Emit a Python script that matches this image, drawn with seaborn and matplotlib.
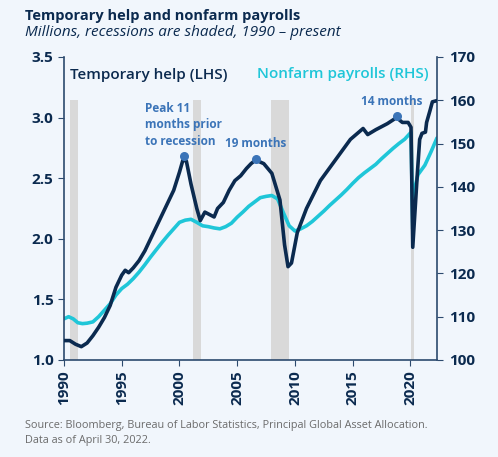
import pandas as pd
import matplotlib.pyplot as plt
import seaborn as sns

# Temporary help (LHS, millions)
temp_year = [1990.0, 1990.5, 1991.0, 1991.5, 1992.0, 1992.5, 1993.0, 1993.5, 1994.0, 1994.5,
             1995.0, 1995.3, 1995.6, 1996.0, 1996.5, 1997.0, 1997.5, 1998.0, 1998.5, 1999.0,
             1999.5, 2000.0, 2000.3, 2000.6, 2001.0, 2001.5, 2001.8, 2002.2, 2002.6, 2003.0,
             2003.3, 2003.8, 2004.3, 2004.8, 2005.3, 2005.8, 2006.2, 2006.6, 2007.3, 2008.0,
             2008.7, 2009.1, 2009.4, 2009.7, 2010.2, 2011.0, 2012.2, 2013.5, 2014.8, 2015.9,
             2016.3, 2017.0, 2018.0, 2018.8, 2019.3, 2019.8, 2020.05, 2020.2, 2020.6, 2020.8,
             2021.0, 2021.3, 2021.4, 2021.7, 2021.9, 2022.3]
temp_help = [1.16, 1.16, 1.13, 1.11, 1.14, 1.20, 1.27, 1.35, 1.45, 1.60,
             1.70, 1.74, 1.72, 1.76, 1.82, 1.90, 2.00, 2.10, 2.20, 2.30,
             2.40, 2.55, 2.65, 2.64, 2.45, 2.25, 2.15, 2.22, 2.20, 2.18,
             2.25, 2.30, 2.40, 2.48, 2.52, 2.58, 2.62, 2.65, 2.62, 2.54,
             2.32, 1.95, 1.77, 1.80, 2.05, 2.25, 2.48, 2.65, 2.82, 2.91,
             2.86, 2.90, 2.95, 3.00, 2.96, 2.96, 2.92, 1.93, 2.54, 2.82,
             2.87, 2.88, 2.96, 3.06, 3.13, 3.14]

# Nonfarm payrolls (RHS, millions)
nfp_year = [1990.0, 1990.4, 1990.8, 1991.2, 1991.6, 1992.0, 1992.5, 1993.0, 1993.5, 1994.0,
            1994.5, 1995.0, 1995.5, 1996.0, 1996.5, 1997.0, 1997.5, 1998.0, 1998.5, 1999.0,
            1999.5, 2000.0, 2000.5, 2001.0, 2001.5, 2002.0, 2002.5, 2003.0, 2003.5, 2004.0,
            2004.5, 2005.0, 2005.5, 2006.0, 2006.5, 2007.0, 2007.5, 2008.0, 2008.5, 2009.0,
            2009.5, 2010.0, 2010.5, 2011.0, 2011.5, 2012.0, 2012.5, 2013.0, 2013.5, 2014.0,
            2014.5, 2015.0, 2015.5, 2016.0, 2016.5, 2017.0, 2017.5, 2018.0, 2018.5, 2019.0,
            2019.5, 2020.05, 2020.2, 2020.4, 2020.65, 2021.25, 2021.8, 2022.3]
nfp = [109.5, 110.0, 109.5, 108.6, 108.4, 108.5, 108.8, 110.0, 111.5, 113.0,
       115.0, 116.5, 117.5, 118.8, 120.3, 122.0, 123.8, 125.5, 127.2, 128.8,
       130.3, 131.8, 132.3, 132.5, 131.8, 131.0, 130.8, 130.5, 130.3, 130.8,
       131.6, 133.0, 134.2, 135.5, 136.5, 137.5, 137.8, 138.0, 137.2, 134.0,
       131.0, 129.8, 130.3, 131.0, 132.0, 133.2, 134.4, 135.7, 136.9, 138.1,
       139.4, 140.8, 142.1, 143.2, 144.2, 145.2, 146.5, 147.7, 148.9, 150.0,
       151.0, 152.6, 130.3, 140.0, 142.8, 145.0, 148.2, 151.3]

# Recessions (start, end)
rec_start = [1990.55, 2001.2, 2007.95, 2020.05]
rec_end = [1991.2, 2001.9, 2009.5, 2020.3]

# Annotated peaks
peak_year = [2000.4, 2006.6, 2018.8]
peak_val = [2.68, 2.66, 3.01]
peak_text = ["Peak 11\nmonths prior\nto recession", "19 months", "14 months"]

df_temp = pd.DataFrame({"year": temp_year, "value": temp_help})
df_nfp = pd.DataFrame({"year": nfp_year, "value": nfp})

navy = "#0b2a4f"
cyan = "#1fc6d8"
blue = "#3b74b8"
bg = "#f1f6fc"

sns.set_style("white")
plt.rcParams["font.family"] = ["Open Sans", "DejaVu Sans"]

fig = plt.figure(figsize=(4.98, 4.57), dpi=100, facecolor=bg)
ax = fig.add_axes([0.1285, 0.2123, 0.749, 0.663], facecolor=bg)
ax2 = ax.twinx()

# recession shading (up to 160 on RHS)
for s, e in zip(rec_start, rec_end):
    ax2.fill_between([s, e], 100, 160, color="#d9d9d9", lw=0, zorder=0)

sns.lineplot(data=df_nfp, x="year", y="value", ax=ax2, color=cyan, lw=2.6, zorder=2)
ax2.set_zorder(1)
ax.set_zorder(2)
ax.patch.set_visible(False)
sns.lineplot(data=df_temp, x="year", y="value", ax=ax, color=navy, lw=2.6, zorder=3)

# peak dots and labels
ax.scatter(peak_year, peak_val, color=blue, s=30, zorder=4)
ax.text(1997.0, 3.13, peak_text[0], color=blue, fontsize=8.5, fontweight="bold", ha="left",
        va="top", linespacing=1.35)
ax.text(2003.9, 2.79, peak_text[1], color=blue, fontsize=8.5, fontweight="bold", ha="left", va="center")
ax.text(2015.7, 3.13, peak_text[2], color=blue, fontsize=8.5, fontweight="bold", ha="left", va="center")

ax.text(1990.5, 3.35, "Temporary help (LHS)", color=navy, fontsize=11, fontweight="semibold", va="center")
ax.text(2006.7, 3.36, "Nonfarm payrolls (RHS)", color=cyan, fontsize=11, fontweight="semibold", va="center")

ax.set_xlim(1990, 2022.3)
ax.set_ylim(1.0, 3.5)
ax2.set_ylim(100, 170)
ax.set_xticks([1990, 1995, 2000, 2005, 2010, 2015, 2020])
ax.set_yticks([1.0, 1.5, 2.0, 2.5, 3.0, 3.5])
ax.set_yticklabels(["1.0", "1.5", "2.0", "2.5", "3.0", "3.5"])
ax2.set_yticks([100, 110, 120, 130, 140, 150, 160, 170])
ax.set_xlabel("")
ax.set_ylabel("")
ax2.set_ylabel("")

for a in (ax, ax2):
    for side in a.spines:
        a.spines[side].set_visible(False)
ax.spines["left"].set_visible(True)
ax.spines["bottom"].set_visible(True)
ax2.spines["right"].set_visible(True)
for sp in [ax.spines["left"], ax.spines["bottom"], ax2.spines["right"]]:
    sp.set_color("#2c4a6e")
    sp.set_linewidth(1.2)

ax.tick_params(axis="both", direction="out", length=4, color="#2c4a6e", labelsize=11, labelcolor=navy,
               bottom=True, left=True)
ax2.tick_params(axis="y", direction="out", length=4, color="#2c4a6e", labelsize=11, labelcolor=navy,
                right=True, pad=5)
plt.setp(ax.get_xticklabels(), rotation=90, fontweight="bold")
plt.setp(ax.get_yticklabels(), fontweight="bold")
plt.setp(ax2.get_yticklabels(), fontweight="bold")

# titles and source
fig.text(0.05, 0.965, "Temporary help and nonfarm payrolls", fontsize=10.5, fontweight="bold",
         color=navy, va="center")
fig.text(0.05, 0.928, "Millions, recessions are shaded, 1990 \u2013 present", fontsize=11,
         style="italic", color=navy, va="center")
fig.text(0.05, 0.070, "Source: Bloomberg, Bureau of Labor Statistics, Principal Global Asset Allocation.",
         fontsize=7.8, color="#6b6b6b", va="center")
fig.text(0.05, 0.037, "Data as of April 30, 2022.", fontsize=7.8, color="#6b6b6b", va="center")

fig.savefig("out.png", dpi=100, facecolor=bg)
